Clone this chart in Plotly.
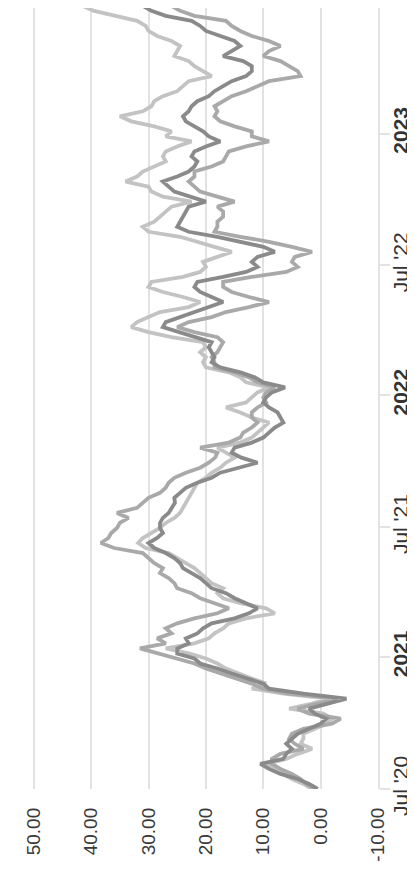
import datetime as dt
import plotly.graph_objects as go

# weekly observation dates, Jul 2020 - Jun 2023
start_date = "2020-07-01"
n_weeks = 157

# Series values (dark, medium, light grey lines)
series_dark = [
    0.5, 2, 4, 7, 9, 10.5, 6.5, 6, 5, 6, 5, 4, 2, 0, -1, 1, 2, -1, -4.5, 3,
    9, 10, 13, 15.5, 18, 21, 22, 25, 25, 23, 23.5, 21.5, 20.5, 19, 15, 12.5, 11, 13, 15, 16.5,
    19, 20, 21, 22.5, 24, 24.5, 25.5, 27, 29, 30, 28.5, 27.5, 28, 28, 27.5, 26.5, 26, 25.4, 25.5, 24.5,
    23.5, 21.5, 19, 17.5, 14, 11, 13.8, 15.5, 15, 12, 10, 9, 8, 6.5, 7, 7.5, 9, 10, 9.5, 8.5,
    6.2, 10, 11.5, 14, 17.5, 19, 18.5, 19, 19.5, 19, 22, 25, 27.5, 27, 24.5, 22.5, 20, 17, 19, 21,
    22, 21.5, 17, 13, 11, 12, 11, 8, 10, 14, 18, 23, 25, 24.5, 24, 23.5, 23, 20, 23, 25.5,
    26.5, 27.5, 25, 23, 22, 21.5, 22.5, 22, 20, 17.5, 19.5, 20.5, 22, 23.5, 24, 23, 22.5, 21.5, 19.5, 18.5,
    17, 15.5, 13, 12, 12, 13.5, 17, 15.5, 14, 15, 17.5, 20, 21, 22.5, 27, 29.5, 31,
]
series_medium = [
    1.0, 2.5, 3.5, 5, 7, 8.5, 8.5, 7, 3, 4.5, 5.5, 5, 3, -2, -3.5, 2, 4, 0.5, -3, 5.5,
    10, 12, 14.5, 17, 20, 22, 25, 28, 31.5, 27, 28.5, 26, 27, 25, 22, 18, 16, 18.5, 21, 22.5,
    25, 25.5, 26.5, 28, 27.5, 29, 30, 31, 36, 38.3, 37, 36.5, 35.5, 35, 33.5, 35.5, 32, 31, 30, 28,
    27, 26.5, 25.5, 23.5, 21, 19.5, 18.4, 18, 21, 16, 14, 13.5, 12, 11, 12, 12, 11, 9.5, 10, 9.5,
    8, 11, 12.5, 15, 18.5, 18.5, 19, 18, 17.5, 17, 18, 22, 25, 23, 19, 16.5, 12.5, 9, 12.5, 15.5,
    17, 17, 12, 6, 4, 5, 4.5, 1.5, 5, 9, 14, 18.5, 18, 18, 17, 17, 18, 15, 18, 21,
    22, 23, 22, 22, 19, 17, 16.5, 16, 13, 9, 12, 12, 15, 17.5, 18.5, 18, 18.5, 17, 15.5, 13,
    11, 9, 3.5, 4, 5.5, 7, 10, 9, 7, 9, 12, 14, 15.5, 16.5, 22, 24.5, 26,
]
series_light = [
    1.5, 3, 5, 6.5, 8, 9.5, 6, 4, 1.5, 3.5, 3, 3, 1, -1, -2, -0.5, 5.5, 1.5, -1.5, 6.5,
    12, 9.5, 12, 14.5, 16.5, 18, 20, 23, 27, 22, 19.5, 18.5, 17, 16, 13, 8, 9.5, 14, 17, 18,
    17, 19, 20, 21, 22, 23.5, 25, 26.5, 30.5, 31.8, 31, 29.5, 28, 27, 25.5, 24.5, 24, 23.5, 23, 22.5,
    22, 21.5, 20, 19, 17.5, 16.5, 15, 16.5, 18, 14, 12, 11, 10, 9, 12, 14, 16.5, 13, 12, 11,
    9, 13, 14, 16, 20, 20.5, 20, 21, 20, 20.5, 26, 30, 33, 32, 30, 28, 23, 21, 24, 27.5,
    30, 29.5, 24, 21, 20, 20.5, 18, 15.5, 18.5, 21.5, 24.5, 30, 31, 29, 28, 27, 26, 22.5, 27.5, 29.5,
    30, 34, 32, 31, 29, 27, 27.5, 27, 25, 22.5, 27, 26, 29, 33, 35, 31, 29.5, 29, 27.5, 25,
    24, 23, 19, 20.5, 22, 23, 25.5, 25, 24.5, 26, 28.5, 30, 30.5, 32, 36, 39.5, 41.5,
]

value_ticks = [50, 40, 30, 20, 10, 0, -10]
value_ticktext = ["50.00", "40.00", "30.00", "20.00", "10.00", "0.00", "-10.00"]
date_tickvals = ["2020-07-01", "2021-01-01", "2021-07-01", "2022-01-01", "2022-07-01", "2023-01-01"]
date_ticktext = ["Jul '20", "<b>2021</b>", "Jul '21", "<b>2022</b>", "Jul '22", "<b>2023</b>"]

d0 = dt.date.fromisoformat(start_date)
dates = [(d0 + dt.timedelta(days=7 * i)).isoformat() for i in range(n_weeks)]

colors = {"light": "#c3c3c3", "medium": "#a9a9a9", "dark": "#8a8a8a"}

fig = go.Figure()
for name, vals in [("light", series_light), ("medium", series_medium), ("dark", series_dark)]:
    fig.add_trace(go.Scatter(
        x=vals, y=dates[:len(vals)], mode="lines", name=name,
        line=dict(color=colors[name], width=3.8),
    ))

font_family = "Liberation Sans, Arial, sans-serif"
fig.update_layout(
    width=415, height=871,
    margin=dict(l=0, r=45, t=0, b=90),
    plot_bgcolor="white", paper_bgcolor="white",
    showlegend=False,
    xaxis=dict(
        range=[54.5, -10],
        tickvals=value_ticks, ticktext=value_ticktext, tickangle=-90,
        showgrid=True, gridcolor="#e2e2e2", gridwidth=2,
        zeroline=False, showline=False, ticks="",
        tickfont=dict(family=font_family, size=19, color="#3a3a3a"),
        ticklabelstandoff=14,
    ),
    yaxis=dict(
        type="date",
        range=["2020-07-01", "2023-06-25"],
        side="right",
        tickvals=date_tickvals, ticktext=date_ticktext, tickangle=-90,
        showgrid=False, zeroline=False,
        showline=True, linecolor="#e2e2e2", linewidth=2,
        ticks="outside", ticklen=10, tickwidth=2, tickcolor="#e2e2e2",
        tickfont=dict(family=font_family, size=21, color="#333333"),
        ticklabelstandoff=-7,
    ),
)

fig.write_html("out.html")
